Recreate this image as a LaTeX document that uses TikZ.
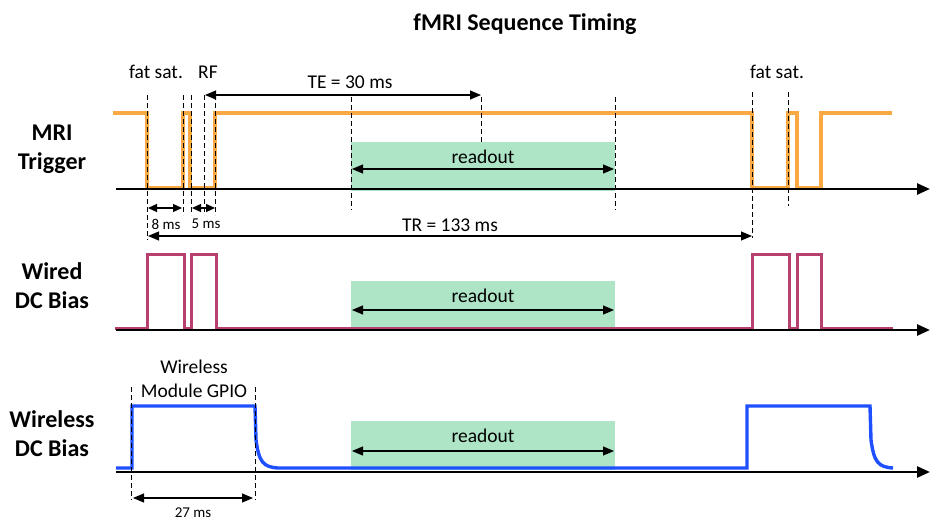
\documentclass[tikz,border=0pt]{standalone}
\usepackage{fontspec}
\setmainfont{Carlito}
\usetikzlibrary{arrows.meta}
\definecolor{mriorange}{RGB}{250,168,66}
\definecolor{wiredpink}{RGB}{184,64,112}
\definecolor{wlblue}{RGB}{30,80,255}
\definecolor{roGreen}{RGB}{173,229,198}
\begin{document}
\begin{tikzpicture}[x=1pt,y=-1pt,
  sig/.style={line width=3.4pt,line join=miter},
  axisline/.style={line width=2.6pt,-{Triangle[length=13pt,width=11pt]}},
  dashline/.style={line width=0.9pt,dash pattern=on 5pt off 3pt},
  dim/.style={line width=1.2pt,{Triangle[length=11pt,width=9pt]}-{Triangle[length=11pt,width=9pt]}},
  dimsmall/.style={line width=1.2pt,{Triangle[length=9pt,width=8pt]}-{Triangle[length=9pt,width=8pt]}},
  rbox/.style={fill=roGreen,draw=none,minimum width=264pt,minimum height=49pt,inner sep=0pt},
  txt/.style={font=\fontsize{19.5}{23}\selectfont,inner sep=0pt},
  smalltxt/.style={font=\fontsize{15}{18}\selectfont,inner sep=0pt},
  rowlbl/.style={font=\fontsize{24}{29}\selectfont\bfseries,align=center,inner sep=0pt},
  title/.style={font=\fontsize{24}{28}\selectfont\bfseries,inner sep=0pt}
]
\useasboundingbox (0,0) rectangle (946,527);

% title
\node[title] (ttl) at (525,24) {fMRI Sequence Timing};

% row labels
\node[rowlbl] (lblA) at (52,149) {MRI\\Trigger};
\node[rowlbl] (lblB) at (52,286) {Wired\\DC Bias};
\node[rowlbl] (lblC) at (52,434) {Wireless\\DC Bias};

% readout boxes
\node[rbox] (box1) at (483,166.5) {};
\node[rbox] (box2) at (483,305.5) {};
\node[rbox] (box3) at (483,445) {};

% signals
\draw[sig,mriorange] (113,113) -- (147,113) -- (147,188) -- (183,188) -- (183,113) -- (190,113) -- (190,188) -- (215,188) -- (215,113) -- (752,113) -- (752,188) -- (788,188) -- (788,113) -- (797,113) -- (797,188) -- (821,188) -- (821,113) -- (892,113);
\draw[sig,wiredpink,line width=3pt] (115,328) -- (147,328) -- (147,254) -- (184,254) -- (184,328) -- (191,328) -- (191,254) -- (216,254) -- (216,328) -- (752,328) -- (752,254) -- (789,254) -- (789,328) -- (797,328) -- (797,254) -- (821,254) -- (821,328) -- (893,328);
\draw[sig,wlblue] (116,468) -- (132,468) -- (132,406) -- (255,406) -- (256,440) .. controls (259,462) and (263,467) .. (278,468) -- (747,468) -- (747,406) -- (870,406) -- (871,440) .. controls (874,462) and (878,467) .. (893,468);

% axes
\coordinate (axAs) at (116,189); \coordinate (axAe) at (930,189);
\coordinate (axBs) at (116,330); \coordinate (axBe) at (930,330);
\coordinate (axCs) at (116,472); \coordinate (axCe) at (930,472);
\draw[axisline] (axAs) -- (axAe);
\draw[axisline] (axBs) -- (axBe);
\draw[axisline] (axCs) -- (axCe);

% dashed guide lines
\foreach \n/\x/\a/\b in {g1/147/95/240, g2/183/95/215, g3/191/95/215, g4/204/95/215, g5/215/95/215,
  g6/351/97/210, g7/481/97/143, g8/615/97/210, g9/752/92/238, g10/788/92/206, g11/131/387/500, g12/255/387/500}{
  \coordinate (\n t) at (\x,\a);
  \coordinate (\n b) at (\x,\b);
  \draw[dashline] (\n t) -- (\n b);
}

% dimension arrows
\coordinate (teL) at (205,95); \coordinate (teR) at (481,95);
\draw[dim] (teL) -- (teR);
\node[txt] (teT) at (350,82) {TE = 30 ms};

\coordinate (e8L) at (148,208); \coordinate (e8R) at (182,208);
\draw[dimsmall] (e8L) -- (e8R);
\node[smalltxt] (e8T) at (166,224) {8 ms};

\coordinate (e5L) at (192,208); \coordinate (e5R) at (215,208);
\draw[dimsmall] (e5L) -- (e5R);
\node[smalltxt] (e5T) at (206,224) {5 ms};

\coordinate (trL) at (148,236); \coordinate (trR) at (752,236);
\draw[dim] (trL) -- (trR);
\node[txt] (trT) at (450,225) {TR = 133 ms};

\coordinate (w27L) at (133,498); \coordinate (w27R) at (253,498);
\draw[dim] (w27L) -- (w27R);
\node[smalltxt] (w27T) at (193,513) {27 ms};

% readout arrows
\coordinate (r1L) at (352,169); \coordinate (r1R) at (614,169);
\coordinate (r2L) at (352,310); \coordinate (r2R) at (614,310);
\coordinate (r3L) at (352,451); \coordinate (r3R) at (614,451);
\draw[dim] (r1L) -- (r1R);
\draw[dim] (r2L) -- (r2R);
\draw[dim] (r3L) -- (r3R);
\node[txt] (r1T) at (483,157) {readout};
\node[txt] (r2T) at (483,296) {readout};
\node[txt] (r3T) at (483,436) {readout};

% event labels
\node[txt] (fs1) at (156,72) {fat sat.};
\node[txt] (rf) at (208,72) {RF};
\node[txt] (fs2) at (777,72) {fat sat.};
\node[txt] (gp1) at (194,367) {Wireless};
\node[txt] (gp2) at (194,391) {Module GPIO};
\end{tikzpicture}
\end{document}
